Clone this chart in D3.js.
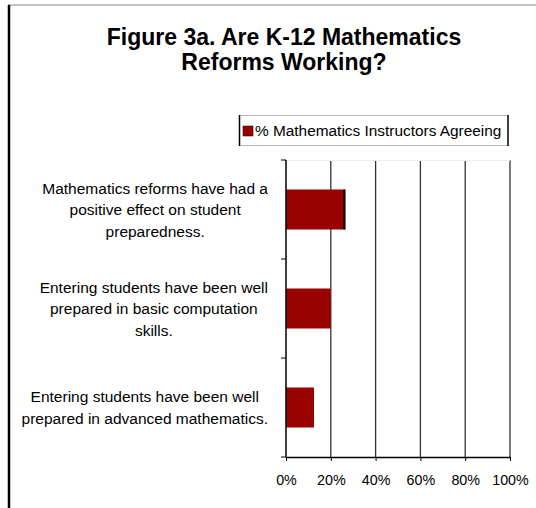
<!DOCTYPE html>
<html>
<head>
<meta charset="utf-8">
<script src="https://cdn.jsdelivr.net/npm/d3@7"></script>
<style>
	body { margin: 0; background: #fff; }
	svg { display: block; font-family: "Liberation Sans", Arial, sans-serif; }
</style>
</head>
<body>
<div id="root"></div>
<script>
const titleLines = ["Figure 3a. Are K-12 Mathematics", "Reforms Working?"];
const seriesName = "% Mathematics Instructors Agreeing";

const categories = ["reforms", "basic", "advanced"];
const categoryLabels = [
	["Mathematics reforms have had a", "positive effect on student", "preparedness."],
	["Entering students have been well", "prepared in basic computation", "skills."],
	["Entering students have been well", "prepared in advanced mathematics."]
];
const agreeing = [0.265, 0.20, 0.125];
const xTicks = [0, 0.2, 0.4, 0.6, 0.8, 1];

const width = 536, height = 508;
const barColor = "#990000";

const makeChart = () => {
	const svg = d3.select("#root")
		.append("svg")
			.attr("width", width)
			.attr("height", height);

	// outer frame bits
	svg.append("line")
		.attr("x1", 8).attr("y1", 5).attr("x2", width).attr("y2", 5)
		.style("stroke", "#c4c4c4").style("stroke-width", 2);
	svg.append("line")
		.attr("x1", 9).attr("y1", 5).attr("x2", 9).attr("y2", height)
		.style("stroke", "#000").style("stroke-width", 2.5);

	// title
	svg.append("text")
		.attr("x", 284)
		.attr("text-anchor", "middle")
		.style("font-size", "23px")
		.style("font-weight", "bold")
		.selectAll("tspan")
		.data(titleLines).enter()
		.append("tspan")
			.attr("x", 284)
			.attr("y", (d, i) => 45 + i * 24.5)
			.text(d => d);

	const x = d3.scaleLinear().domain([0, 1]).range([286, 510]);
	const y = d3.scaleBand()
		.domain(categories)
		.range([160, 457])
		.paddingInner(0.596)
		.paddingOuter(0.298);

	renderLegend(svg);
	renderGrid(svg, x, y);
	renderBars(svg, x, y);
	renderAxes(svg, x, y);
	renderCategoryLabels(svg, y);
};

const renderLegend = (svg) => {
	const g = svg.append("g").attr("class", "legend");
	g.append("rect")
		.attr("x", 239).attr("y", 115).attr("width", 269).attr("height", 31)
		.style("fill", "#fff");
	g.append("line").attr("x1", 239).attr("x2", 508).attr("y1", 115.5).attr("y2", 115.5)
		.style("stroke", "#bbb");
	g.append("line").attr("x1", 239).attr("x2", 508).attr("y1", 145.5).attr("y2", 145.5)
		.style("stroke", "#bbb");
	g.append("line").attr("x1", 239.5).attr("x2", 239.5).attr("y1", 115).attr("y2", 146)
		.style("stroke", "#000").style("stroke-width", 1.5);
	g.append("line").attr("x1", 508).attr("x2", 508).attr("y1", 115).attr("y2", 146)
		.style("stroke", "#000").style("stroke-width", 1.5);
	g.append("rect")
		.attr("x", 243).attr("y", 126).attr("width", 10).attr("height", 10)
		.style("fill", barColor).style("stroke", "#000").style("stroke-width", 0.5);
	g.append("text")
		.attr("x", 255).attr("y", 136)
		.style("font-size", "15.4px")
		.text(seriesName);
};

const renderGrid = (svg, x, y) => {
	const [y0, y1] = y.range();
	svg.append("g")
		.selectAll(".grid")
		.data(xTicks.slice(1)).enter()
		.append("line")
			.attr("class", "grid")
			.attr("x1", d => x(d)).attr("x2", d => x(d))
			.attr("y1", y0).attr("y2", y1)
			.style("stroke", "#333")
			.style("stroke-width", 1.3);
	svg.append("line")
		.attr("x1", x(0)).attr("x2", x(1)).attr("y1", y0 + 0.5).attr("y2", y0 + 0.5)
		.style("stroke", "#eee");
};

const renderBars = (svg, x, y) => {
	svg.append("g")
		.selectAll(".bar")
		.data(categories).enter()
		.append("rect")
			.attr("class", "bar")
			.attr("x", x(0))
			.attr("y", d => y(d))
			.attr("width", (d, i) => x(agreeing[i]) - x(0))
			.attr("height", y.bandwidth())
			.style("fill", barColor);

	// first bar was drawn with dark ends in the original
	const first = categories[0];
	svg.append("line")
		.attr("x1", x(agreeing[0]) - 1).attr("x2", x(agreeing[0]) - 1)
		.attr("y1", y(first)).attr("y2", y(first) + y.bandwidth())
		.style("stroke", "#000").style("stroke-width", 2);
};

const renderAxes = (svg, x, y) => {
	const [y0, y1] = y.range();
	const xAxis = d3.axisBottom(x)
		.tickValues(xTicks)
		.tickFormat(d3.format(".0%"))
		.tickSize(4)
		.tickSizeOuter(0)
		.tickPadding(14);

	const gx = svg.append("g")
		.attr("transform", `translate(0, ${y1})`)
		.call(xAxis);
	gx.select(".domain").style("stroke", "#000").style("stroke-width", 1.5);
	gx.selectAll(".tick line").style("stroke", "#000");
	gx.selectAll("text")
		.style("font-size", "14.3px")
		.style("font-family", "Liberation Sans, Arial, sans-serif")
		.style("fill", "#000");

	// band boundaries for the category axis ticks
	const bounds = d3.range(categories.length + 1).map(i => y0 + i * (y1 - y0) / categories.length);
	const gy = svg.append("g");
	gy.append("line")
		.attr("x1", x(0)).attr("x2", x(0)).attr("y1", y0).attr("y2", y1)
		.style("stroke", "#000").style("stroke-width", 1.5);
	gy.selectAll(".ytick")
		.data(bounds).enter()
		.append("line")
			.attr("class", "ytick")
			.attr("x1", x(0) - 5).attr("x2", x(0))
			.attr("y1", d => d).attr("y2", d => d)
			.style("stroke", "#000");
};

const renderCategoryLabels = (svg, y) => {
	const lineH = 21.5;
	const rightEdge = 268;

	categories.forEach((c, i) => {
		const lines = categoryLabels[i];
		const mid = y(c) + y.bandwidth() / 2;
		const text = svg.append("text")
			.attr("text-anchor", "middle")
			.style("font-size", "15.5px");
		const spans = text.selectAll("tspan")
			.data(lines).enter()
			.append("tspan")
				.attr("y", (d, j) => mid + (j - (lines.length - 1) / 2) * lineH + 5.5)
				.text(d => d);
		const widest = d3.max(spans.nodes(), n => n.getComputedTextLength());
		spans.attr("x", rightEdge - widest / 2);
	});
};

makeChart();
</script>
</body>
</html>
